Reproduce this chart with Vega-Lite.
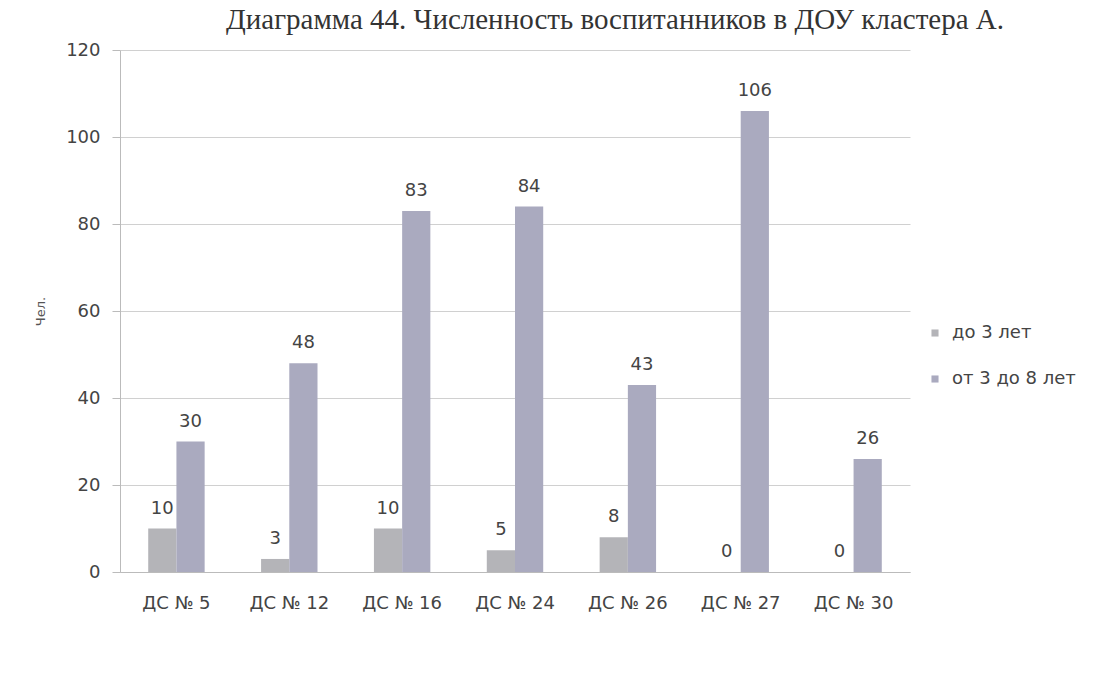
{
  "$schema": "https://vega.github.io/schema/vega-lite/v6.json",
  "autosize": "none",
  "width": 790,
  "height": 522,
  "padding": {"left": 120, "top": 50, "right": 198, "bottom": 105},
  "background": "#ffffff",
  "title": {
    "text": "Диаграмма 44. Численность воспитанников в ДОУ кластера А.",
    "font": "Liberation Serif",
    "fontSize": 29,
    "fontWeight": "normal",
    "color": "#333333",
    "anchor": "middle",
    "dx": 100,
    "offset": 6
  },
  "data": {
    "values": [
      {"ds": "ДС № 5", "group": "до 3 лет", "value": 10},
      {"ds": "ДС № 5", "group": "от 3 до 8 лет", "value": 30},
      {"ds": "ДС № 12", "group": "до 3 лет", "value": 3},
      {"ds": "ДС № 12", "group": "от 3 до 8 лет", "value": 48},
      {"ds": "ДС № 16", "group": "до 3 лет", "value": 10},
      {"ds": "ДС № 16", "group": "от 3 до 8 лет", "value": 83},
      {"ds": "ДС № 24", "group": "до 3 лет", "value": 5},
      {"ds": "ДС № 24", "group": "от 3 до 8 лет", "value": 84},
      {"ds": "ДС № 26", "group": "до 3 лет", "value": 8},
      {"ds": "ДС № 26", "group": "от 3 до 8 лет", "value": 43},
      {"ds": "ДС № 27", "group": "до 3 лет", "value": 0},
      {"ds": "ДС № 27", "group": "от 3 до 8 лет", "value": 106},
      {"ds": "ДС № 30", "group": "до 3 лет", "value": 0},
      {"ds": "ДС № 30", "group": "от 3 до 8 лет", "value": 26}
    ]
  },
  "encoding": {
    "x": {
      "field": "ds",
      "type": "nominal",
      "sort": null,
      "scale": {"paddingInner": 0, "paddingOuter": 0},
      "axis": {
        "title": null,
        "labelAngle": 0,
        "labelFont": "DejaVu Sans",
        "labelFontSize": 18,
        "labelColor": "#444444",
        "labelPadding": 22,
        "labelOverlap": false,
        "ticks": false,
        "domainColor": "#bbbbbb",
        "grid": false
      }
    },
    "xOffset": {
      "field": "group",
      "type": "nominal",
      "scale": {"paddingInner": 0, "paddingOuter": 1.1}
    },
    "y": {
      "field": "value",
      "type": "quantitative",
      "scale": {"domain": [0, 120]},
      "axis": {
        "title": "Чел.",
        "titleFont": "DejaVu Sans",
        "titleFontSize": 13,
        "titleFontWeight": "normal",
        "titleColor": "#555555",
        "titlePadding": 18,
        "values": [0, 20, 40, 60, 80, 100, 120],
        "labelFont": "DejaVu Sans",
        "labelFontSize": 18,
        "labelColor": "#444444",
        "labelPadding": 12,
        "tickColor": "#bbbbbb",
        "tickSize": 8,
        "domainColor": "#bbbbbb",
        "gridColor": "#d0d0d0"
      }
    }
  },
  "layer": [
    {
      "mark": {"type": "bar"},
      "encoding": {
        "color": {
          "field": "group",
          "type": "nominal",
          "scale": {"domain": ["до 3 лет", "от 3 до 8 лет"], "range": ["#b4b4b8", "#aaaabf"]},
          "legend": {
            "title": null,
            "orient": "none",
            "legendX": 806,
            "legendY": 274,
            "symbolType": "square",
            "symbolSize": 50,
            "labelFont": "DejaVu Sans",
            "labelFontSize": 18,
            "labelColor": "#444444",
            "labelOffset": 8,
            "rowPadding": 28
          }
        }
      }
    },
    {
      "mark": {"type": "text", "dy": -20, "font": "DejaVu Sans", "fontSize": 18, "color": "#444444"},
      "encoding": {
        "text": {"field": "value", "type": "quantitative"}
      }
    }
  ],
  "config": {"view": {"stroke": null}}
}
